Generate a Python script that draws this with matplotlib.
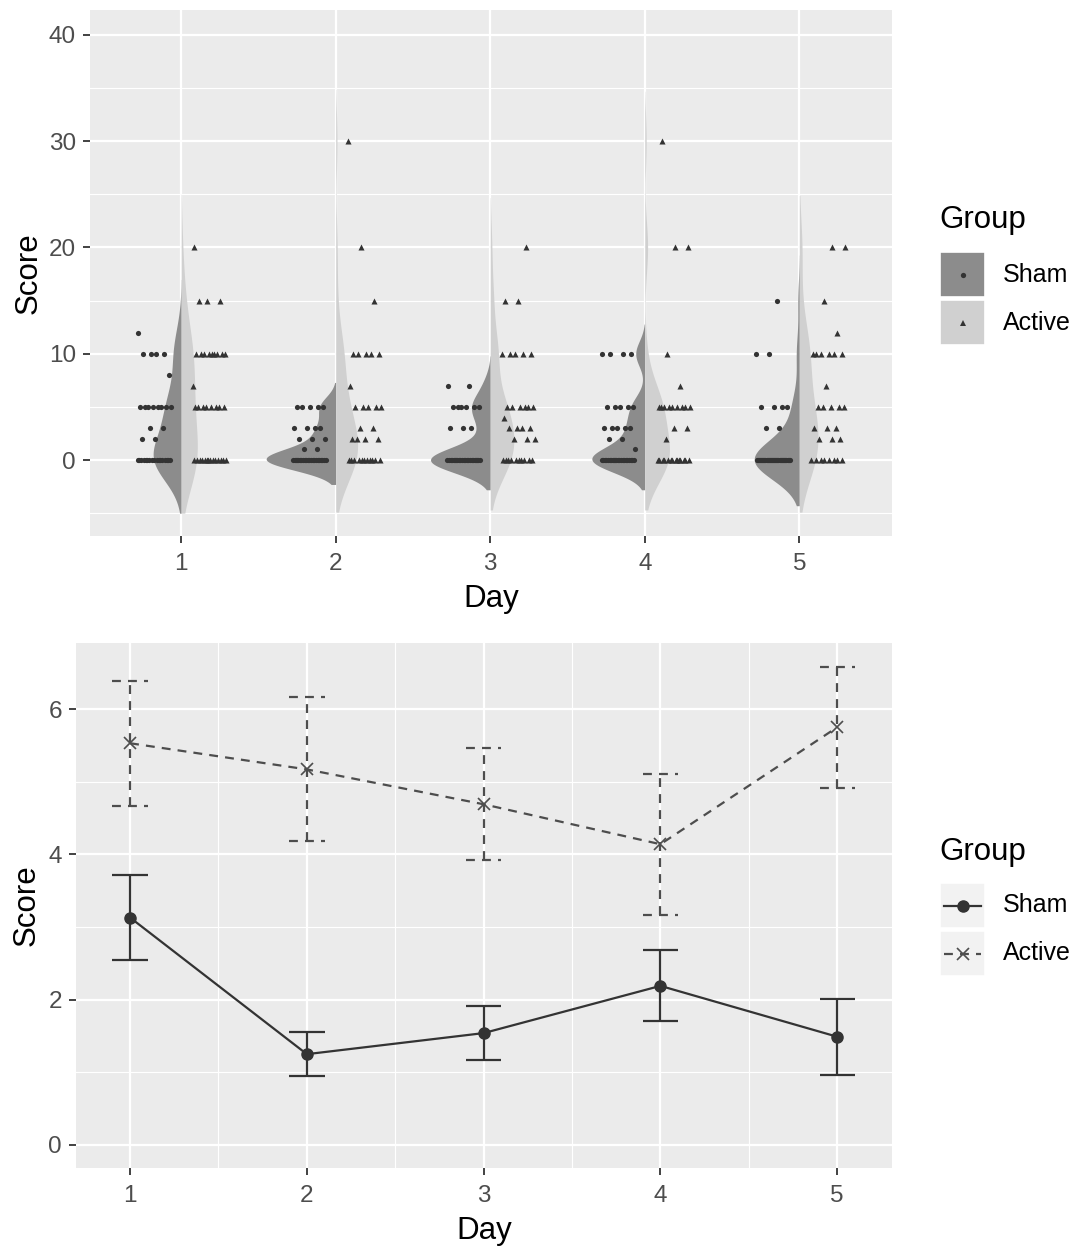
import numpy as np
import matplotlib
matplotlib.use("Agg")
import matplotlib.pyplot as plt
from matplotlib.patches import Rectangle

plt.rcParams['font.family'] = ['Liberation Sans', 'DejaVu Sans']

days = [1, 2, 3, 4, 5]
groups = ['Sham', 'Active']

# raw scores per day (top panel)
sham_scores = [
    [0]*17 + [2]*2 + [3]*2 + [5]*8 + [8] + [10]*4 + [12],
    [0]*22 + [1]*2 + [2]*3 + [3]*4 + [5]*5,
    [0]*23 + [3]*3 + [5]*6 + [7]*2,
    [0]*22 + [1] + [2]*2 + [3]*5 + [5]*5 + [10]*4,
    [0]*31 + [3]*2 + [5]*4 + [10]*2 + [15],
]
active_scores = [
    [0]*14 + [5]*8 + [7] + [10]*9 + [15]*3 + [20],
    [0]*11 + [2]*4 + [3]*2 + [5]*5 + [7] + [10]*5 + [15] + [20] + [30],
    [0]*10 + [2]*3 + [3]*4 + [4] + [5]*6 + [10]*5 + [15]*2 + [20],
    [0]*14 + [2] + [3]*2 + [5]*9 + [7] + [10] + [20]*2 + [30],
    [0]*8 + [2]*3 + [3]*3 + [5]*5 + [7] + [10]*6 + [12] + [15] + [20]*2,
]
# kde bandwidths and how far each violin runs past the data
sham_bw = [2.15, 1.0, 1.2, 1.2, 1.85]
sham_cut = [5.0, 2.3, 2.8, 2.8, 4.3]
active_bw = [3.1, 2.7, 2.4, 2.4, 2.9]
active_cut = [5.0, 4.9, 4.7, 4.7, 4.9]

# summary per day (bottom panel): mean and standard error
sham_mean = [3.13, 1.25, 1.54, 2.19, 1.49]
sham_se = [0.585, 0.30, 0.37, 0.49, 0.52]
active_mean = [5.53, 5.17, 4.69, 4.14, 5.75]
active_se = [0.86, 0.99, 0.77, 0.97, 0.83]

BG = '#ebebeb'
SHAM_FILL = '#8c8c8c'
ACTIVE_FILL = '#d0d0d0'
PT = '#333333'
TICK_COL = '#4d4d4d'
W, H = 1072, 1247


def kde(vals, bw, cut):
    vals = np.asarray(vals, float)
    grid = np.linspace(vals.min() - cut, vals.max() + cut, 512)
    z = (grid[:, None] - vals[None, :]) / bw
    d = np.exp(-0.5 * z ** 2).sum(axis=1) / (len(vals) * bw * np.sqrt(2 * np.pi))
    return grid, d


def spread(n, width=0.11, phase=0.3):
    # deterministic jitter (golden ratio sequence)
    i = np.arange(n)
    return ((i * 0.618034 + phase) % 1.0 - 0.5) * 2 * width


def style_axes(ax):
    ax.set_facecolor(BG)
    for s in ax.spines.values():
        s.set_visible(False)
    ax.tick_params(axis='both', colors='#333333', labelcolor=TICK_COL,
                   labelsize=17.5, length=5, width=1.3, pad=5)
    ax.tick_params(axis='x', pad=7)
    ax.grid(which='major', color='white', lw=1.6)
    ax.grid(which='minor', color='white', lw=0.8)
    ax.tick_params(which='minor', length=0)
    ax.set_axisbelow(True)


fig = plt.figure(figsize=(W / 100, H / 100), dpi=100)

# ---------------- top panel: split violins ----------------
ax1 = fig.add_axes([90 / W, 1 - 536 / H, 802 / W, 526 / H])
style_axes(ax1)

dens = []
for i in range(len(days)):
    dens.append(kde(sham_scores[i], sham_bw[i], sham_cut[i]))
    dens.append(kde(active_scores[i], active_bw[i], active_cut[i]))
dmax = max(d.max() for _, d in dens)

for i, day in enumerate(days):
    g, d = dens[2 * i]
    ax1.fill_betweenx(g, day - 0.45 * d / dmax, day, color=SHAM_FILL, lw=0, zorder=2)
    g, d = dens[2 * i + 1]
    ax1.fill_betweenx(g, day, day + 0.45 * d / dmax, color=ACTIVE_FILL, lw=0, zorder=2)

    sv = np.sort(sham_scores[i])
    ax1.scatter(day - 0.17 + spread(len(sv), phase=0.13 * i), sv, s=14, marker='o',
                color=PT, lw=0, zorder=3)
    av = np.sort(active_scores[i])
    ax1.scatter(day + 0.185 + spread(len(av), phase=0.41 + 0.07 * i), av, s=19, marker='^',
                color=PT, lw=0, zorder=3)

ax1.set_xlim(0.41, 5.6)
ax1.set_ylim(-7.15, 42.35)
ax1.set_xticks(days)
ax1.set_xticklabels([str(d) for d in days])
ax1.set_yticks([0, 10, 20, 30, 40])
ax1.set_yticks([-5, 5, 15, 25, 35], minor=True)
ax1.xaxis.grid(False, which='minor')
ax1.set_xlabel('Day', fontsize=22.5, labelpad=7)
ax1.set_ylabel('Score', fontsize=22.5, labelpad=4)

# ---------------- bottom panel: means with SE ----------------
ax2 = fig.add_axes([76 / W, 1 - 1168 / H, 816 / W, 525 / H])
style_axes(ax2)

d = np.array(days, float)
sm, ss = np.array(sham_mean), np.array(sham_se)
am, ase = np.array(active_mean), np.array(active_se)

dash = (0, (4, 3.2))
ax2.vlines(d, am - ase, am + ase, colors='#4d4d4d', lw=1.6, linestyles=dash, zorder=3)
ax2.hlines(am - ase, d - 0.1, d + 0.1, colors='#4d4d4d', lw=1.6, linestyles=dash, zorder=3)
ax2.hlines(am + ase, d - 0.1, d + 0.1, colors='#4d4d4d', lw=1.6, linestyles=dash, zorder=3)
ax2.plot(d, am, color='#4d4d4d', lw=1.6, ls=dash, marker='x', ms=8, mew=1.2, zorder=4)

ax2.vlines(d, sm - ss, sm + ss, colors='#333333', lw=1.6, zorder=3)
ax2.hlines(sm - ss, d - 0.1, d + 0.1, colors='#333333', lw=1.6, zorder=3)
ax2.hlines(sm + ss, d - 0.1, d + 0.1, colors='#333333', lw=1.6, zorder=3)
ax2.plot(d, sm, color='#333333', lw=1.6, marker='o', ms=8, zorder=4)

ax2.set_xlim(0.694, 5.31)
ax2.set_ylim(-0.317, 6.91)
ax2.set_xticks(days)
ax2.set_xticklabels([str(x) for x in days])
ax2.set_xticks([1.5, 2.5, 3.5, 4.5], minor=True)
ax2.set_yticks([0, 2, 4, 6])
ax2.set_yticks([1, 3, 5], minor=True)
ax2.set_xlabel('Day', fontsize=22.5, labelpad=7)
ax2.set_ylabel('Score', fontsize=22.5, labelpad=5)

# ---------------- legends (drawn in pixel space) ----------------
leg = fig.add_axes([0, 0, 1, 1], zorder=10)
leg.set_xlim(0, W)
leg.set_ylim(H, 0)
leg.axis('off')


def legend_block(title_y, key_tops, kind):
    leg.text(939, title_y, 'Group', fontsize=22.5, va='center', ha='left', color='black')
    for k, (top, name) in enumerate(zip(key_tops, groups)):
        if kind == 'violin':
            fill = SHAM_FILL if k == 0 else ACTIVE_FILL
        else:
            fill = '#f2f2f2'
        leg.add_patch(Rectangle((940, top), 45, 45, facecolor=fill, edgecolor='white', lw=1.2))
        cy = top + 22.5
        if kind == 'violin':
            leg.plot([962.5], [cy], marker='o' if k == 0 else '^', ms=3.8 if k == 0 else 4.4,
                     color=PT, mew=0)
        else:
            if k == 0:
                leg.plot([944, 981], [cy, cy], color='#333333', lw=1.6)
                leg.plot([962.5], [cy], marker='o', ms=8, color='#333333')
            else:
                leg.plot([944, 981], [cy, cy], color='#4d4d4d', lw=1.6, ls=dash)
                leg.plot([962.5], [cy], marker='x', ms=8, mew=1.2, color='#4d4d4d')
        leg.text(1003, cy, name, fontsize=18, va='center', ha='left', color='black')


legend_block(220, [252, 300], 'violin')
legend_block(852, [883, 931], 'line')

fig.savefig('out.png', dpi=100, facecolor='white')
